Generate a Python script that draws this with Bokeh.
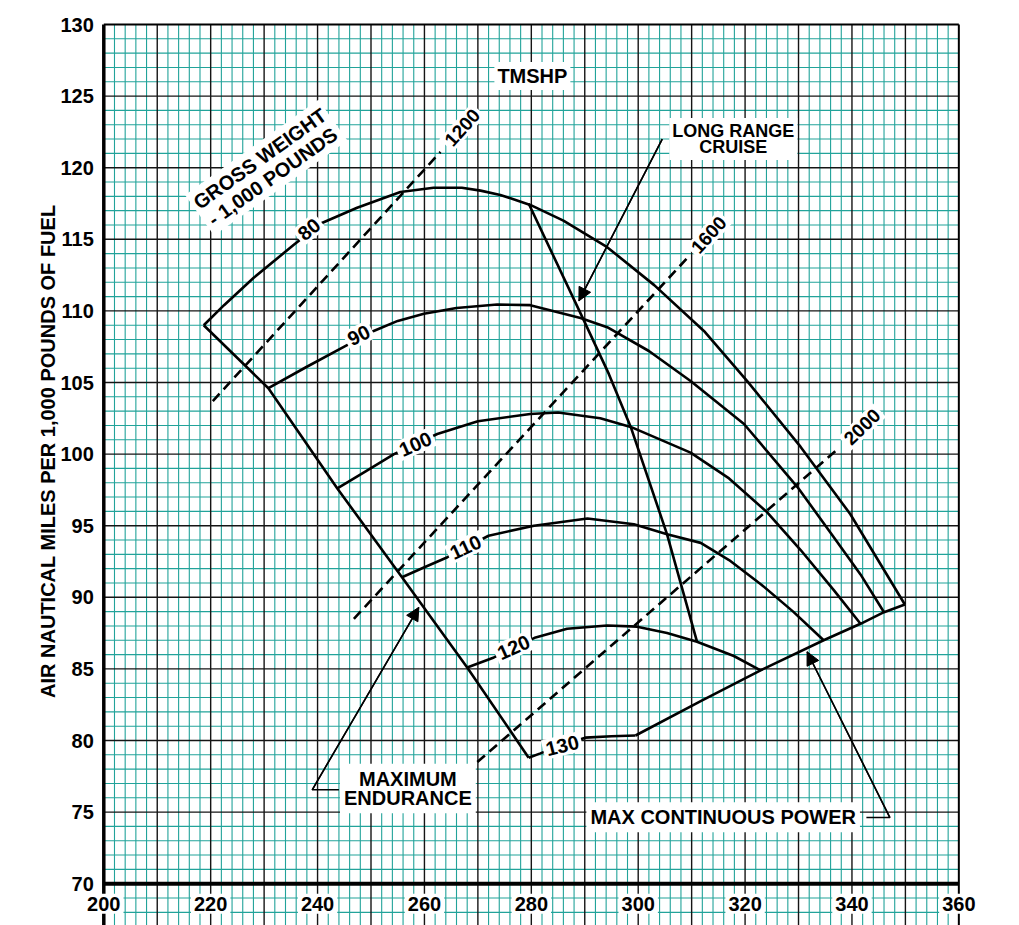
import math
from bokeh.plotting import figure
from bokeh.models import Range1d, Label, Arrow, NormalHead, ColumnDataSource
from bokeh.core.properties import value
from bokeh.embed import file_html
from bokeh.resources import INLINE

FONT = "Liberation Sans"

# ---------------- data ----------------
# gross weight curves (1,000 lb)
c80_x = [218.7, 222.5, 228.0, 235.5, 240.6, 247.4, 255.5, 261.7, 267.0, 270.5, 274.2, 279.8,
         286.0, 294.2, 303.0, 312.3, 320.4, 330.4, 339.7, 349.9]
c80_y = [109.0, 110.4, 112.3, 114.6, 116.1, 117.2, 118.3, 118.6, 118.6, 118.4, 118.1, 117.4,
         116.3, 114.45, 111.8, 108.6, 105.1, 100.5, 95.8, 89.5]
c90_x = [230.8, 238.0, 245.0, 250.5, 255.0, 259.9, 266.0, 273.6, 279.8, 289.2, 294.2, 302.0,
         309.8, 319.8, 329.8, 336.6, 341.6, 346.0]
c90_y = [104.6, 106.1, 107.5, 108.6, 109.3, 109.8, 110.2, 110.45, 110.4, 109.5, 108.86, 107.2,
         105.1, 102.1, 97.7, 94.2, 91.6, 88.96]
c100_x = [243.7, 249.0, 254.3, 262.4, 270.0, 279.8, 285.0, 292.9, 298.6, 309.8, 317.0, 324.1,
          330.4, 336.6, 341.6]
c100_y = [97.6, 98.8, 100.0, 101.4, 102.3, 102.8, 102.9, 102.5, 101.9, 100.1, 98.3, 95.95,
          93.3, 90.5, 88.15]
c110_x = [255.8, 260.0, 264.3, 272.0, 280.5, 290.5, 299.2, 305.4, 311.7, 317.0, 323.0, 329.0, 334.7]
c110_y = [91.4, 92.1, 92.8, 94.3, 95.0, 95.5, 95.1, 94.4, 93.8, 92.6, 90.9, 89.0, 87.0]
c120_x = [268.0, 273.0, 280.8, 286.7, 294.2, 299.8, 305.4, 311.0, 317.9, 322.9]
c120_y = [85.1, 85.8, 87.2, 87.8, 88.03, 87.95, 87.5, 86.9, 85.9, 84.9]
c130_x = [279.5, 281.7, 285.0, 290.1, 295.0, 299.5]
c130_y = [78.8, 79.1, 79.6, 80.2, 80.3, 80.35]

# boundary lines
max_end_x = [218.7, 230.8, 243.7, 255.8, 268.0, 279.5]
max_end_y = [109.0, 104.6, 97.6, 91.4, 85.1, 78.8]
mcp_x = [299.5, 311.7, 322.9, 334.7, 341.6, 346.0, 349.9]
mcp_y = [80.35, 82.75, 84.9, 87.0, 88.15, 88.96, 89.5]
lrc_x = [279.5, 289.5, 294.5, 298.6, 305.4, 311.0]
lrc_y = [117.5, 109.6, 105.6, 101.9, 94.4, 86.9]

# torque (TMSHP) dashed lines
tq1200_x = [220.4, 263.0]
tq1200_y = [103.7, 121.1]
tq1600_x = [246.8, 309.2]
tq1600_y = [88.5, 113.7]
tq2000_x = [269.9, 337.5]
tq2000_y = [78.5, 100.4]

# curve labels
gw_text = ["80", "90", "100", "110", "120", "130"]
gw_lx = [238.4, 247.7, 258.3, 267.7, 276.7, 285.8]
gw_ly = [115.7, 108.3, 100.7, 93.5, 86.5, 79.65]
gw_ang = [39, 27, 24, 25, 24, 14]

tq_text = ["1200", "1600", "2000"]
tq_lx = [267.1, 313.2, 341.9]
tq_ly = [122.8, 115.3, 101.9]
tq_ang = [48, 48, 44]

# leader lines (annotation arrows)
lrc_lead_x = [304.5, 288.9]
lrc_lead_y = [122.0, 110.7]
me_lead_x = [244.0, 239.0, 258.95]
me_lead_y = [76.56, 76.56, 89.3]
mcp_lead_x = [342.7, 347.1, 331.6]
mcp_lead_y = [74.62, 74.62, 86.2]

# axes / ticks
x_min, x_max = 200, 360
y_min, y_max = 70, 130
xtick_vals = [200, 220, 240, 260, 280, 300, 320, 340, 360]
ytick_vals = [70, 75, 80, 85, 90, 95, 100, 105, 110, 115, 120, 125, 130]
y_title = "AIR NAUTICAL MILES PER 1,000 POUNDS OF FUEL"

# ---------------- figure ----------------
PX_X = 5.344   # pixels per knot
PX_Y = 14.32   # pixels per unit
W, H = 1019, 925
x0 = x_min - 103.3 / PX_X
y1 = y_max + 24 / PX_Y
xr = Range1d(x0, x0 + W / PX_X)
yr = Range1d(y1 - H / PX_Y, y1)
y_bot = yr.start

p = figure(width=W, height=H, x_range=xr, y_range=yr, output_backend="svg",
           toolbar_location=None, min_border=0)
p.xaxis.visible = False
p.yaxis.visible = False
p.xgrid.visible = False
p.ygrid.visible = False
p.outline_line_color = None
p.background_fill_color = "white"
p.border_fill_color = "white"

# graph-paper grid: minor (teal) then major (black)
TEAL = "#22a39a"
minor_x = [v for v in range(x_min, x_max + 1, 2) if v % 10]
major_x = [v for v in range(x_min + 10, x_max, 10)]
minor_y = [v for v in range(int(math.ceil(y_bot)), y_max + 1) if v % 5]
major_y = [v for v in range(y_min + 5, y_max, 5)]

p.multi_line(xs=[[v, v] for v in minor_x], ys=[[y_bot, y_max]] * len(minor_x),
             line_color=TEAL, line_width=1.1)
p.multi_line(xs=[[x_min, x_max]] * len(minor_y), ys=[[v, v] for v in minor_y],
             line_color=TEAL, line_width=1.1)
p.multi_line(xs=[[v, v] for v in major_x], ys=[[y_bot, y_max]] * len(major_x),
             line_color="#151515", line_width=1.4)
p.multi_line(xs=[[x_min, x_max]] * len(major_y), ys=[[v, v] for v in major_y],
             line_color="#151515", line_width=1.4)
# frame: top and right borders, heavy left and bottom axis lines
p.line([x_min, x_max], [y_max, y_max], line_color="black", line_width=2.2)
p.line([x_max, x_max], [y_bot, y_max], line_color="black", line_width=2)
p.line([x_min, x_min], [y_bot, y_max], line_color="black", line_width=3.5)
p.line([x_min, x_max], [y_min, y_min], line_color="black", line_width=4)

LW = 2.6
for xs, ys in [(c80_x, c80_y), (c90_x, c90_y), (c100_x, c100_y), (c110_x, c110_y),
               (c120_x, c120_y), (c130_x, c130_y), (max_end_x, max_end_y),
               (mcp_x, mcp_y), (lrc_x, lrc_y)]:
    p.line(xs, ys, line_color="black", line_width=LW)

for xs, ys in [(tq1200_x, tq1200_y), (tq1600_x, tq1600_y), (tq2000_x, tq2000_y)]:
    p.line(xs, ys, line_color="black", line_width=LW, line_dash="10 6")

# leader lines + arrows
for lx, ly in [(lrc_lead_x, lrc_lead_y), (me_lead_x, me_lead_y), (mcp_lead_x, mcp_lead_y)]:
    p.line(lx, ly, line_color="black", line_width=1.5)
    p.add_layout(Arrow(end=NormalHead(size=13, fill_color="black", line_color="black"),
                       x_start=lx[-2], y_start=ly[-2], x_end=lx[-1], y_end=ly[-1],
                       line_color="black", line_width=1.5))

TXT = dict(text_font=value(FONT), text_font_style="bold", text_color="black",
           text_baseline="middle")

# curve labels with white boxes
gw_src = ColumnDataSource(dict(x=gw_lx, y=gw_ly, text=gw_text,
                               angle=[math.radians(a) for a in gw_ang]))
p.text(x="x", y="y", text="text", angle="angle", source=gw_src, text_font_size="20px",
       text_align="center", background_fill_color="white", padding=3, **TXT)

tq_src = ColumnDataSource(dict(x=tq_lx, y=tq_ly, text=tq_text,
                               angle=[math.radians(a) for a in tq_ang]))
p.text(x="x", y="y", text="text", angle="angle", source=tq_src, text_font_size="19px",
       text_align="center", background_fill_color="white", padding=3, **TXT)

# tick labels
xt_src = ColumnDataSource(dict(x=xtick_vals, y=[y_min - 1.4] * len(xtick_vals),
                               text=[str(v) for v in xtick_vals]))
p.text(x="x", y="y", text="text", source=xt_src, text_font_size="20px",
       text_align="center", background_fill_color="white", padding=3, **TXT)
yt_src = ColumnDataSource(dict(x=[x_min - 10 / PX_X] * len(ytick_vals), y=ytick_vals,
                               text=[str(v) for v in ytick_vals]))
p.text(x="x", y="y", text="text", source=yt_src, text_font_size="20px",
       text_align="right", **TXT)

# y axis title
p.text(x=[x_min - 56 / PX_X], y=[100.2], text=[y_title], angle=[math.pi / 2],
       text_font_size="20px", text_align="center", **TXT)


def note(x, y, text, size="20px", angle=0.0, lh=1.0, pad=3):
    p.add_layout(Label(x=x, y=y, text=text, angle=angle, text_font=FONT,
                       text_font_style="bold", text_font_size=size, text_align="center",
                       text_baseline="middle", text_color="black", text_line_height=lh,
                       background_fill_color="white", padding=pad))


note(230.4, 120.0, "GROSS WEIGHT\n- 1,000 POUNDS", angle=math.radians(35.5), lh=1.0)
note(280.2, 126.4, "TMSHP")
note(317.8, 122.0, "LONG RANGE\nCRUISE", size="18px", lh=0.8)
note(256.9, 76.65, "MAXIMUM\nENDURANCE", lh=0.88, pad=4)
note(315.9, 74.64, "MAX CONTINUOUS POWER", pad=4)

open("out.html", "w").write(file_html(p, INLINE))
